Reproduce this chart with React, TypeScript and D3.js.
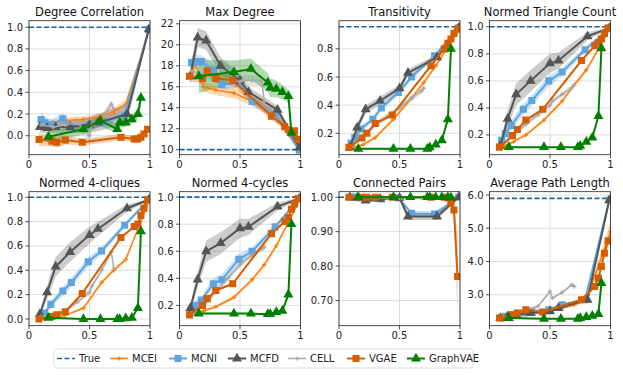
import React from 'react';
import * as d3 from 'd3';

const W = 623;
const H = 375;

// x positions of each method (shared by every panel)
const xMCEI = [0.1, 0.13, 0.2, 0.3, 0.45, 0.6, 0.7, 0.8, 1.0];
const xMCNI = [0.1, 0.13, 0.18, 0.28, 0.35, 0.49, 0.6, 0.79, 0.99];
const xMCFD = [0.09, 0.15, 0.22, 0.34, 0.5, 0.57, 0.81, 0.99];
const xCELL = [0.1, 0.2, 0.3, 0.4, 0.5, 0.52, 0.6, 0.68, 0.7];
const xVGAE = [0.083, 0.19, 0.23, 0.3, 0.44, 0.76, 0.87, 0.9, 0.925, 0.95, 0.98];
const xGraphVAE = [0.16, 0.45, 0.59, 0.73, 0.75, 0.8, 0.85, 0.9, 0.925];

// each entry: [mean, half width of the shaded band]
const degreeCorrelation = {
  MCEI: [[0.12, 0.03], [0.13, 0.03], [0.12, 0.03], [0.14, 0.03], [0.15, 0.03], [0.18, 0.03], [0.22, 0.04], [0.29, 0.04], [1.0, 0.01]],
  MCNI: [[0.15, 0.07], [0.12, 0.06], [0.1, 0.05], [0.155, 0.05], [0.08, 0.04], [0.1, 0.04], [0.12, 0.04], [0.19, 0.05], [0.98, 0.01]],
  MCFD: [[0.08, 0.05], [0.07, 0.05], [0.08, 0.05], [0.08, 0.06], [0.1, 0.07], [0.12, 0.08], [0.2, 0.09], [0.98, 0.01]],
  CELL: [[0.1, 0.04], [0.08, 0.04], [0.1, 0.04], [0.12, 0.05], [0.0, 0.05], [0.1, 0.05], [0.15, 0.05], [0.29, 0.04], [0.25, 0.04]],
  VGAE: [[-0.035, 0.06], [-0.05, 0.05], [-0.06, 0.05], [-0.04, 0.04], [-0.06, 0.03], [-0.015, 0.03], [-0.03, 0.03], [-0.03, 0.03], [-0.015, 0.03], [0.015, 0.03], [0.06, 0.03]],
  GraphVAE: [[-0.01, 0.05], [0.06, 0.05], [0.14, 0.05], [0.06, 0.04], [0.12, 0.04], [0.12, 0.04], [0.15, 0.04], [0.2, 0.05], [0.35, 0.07]],
};

const maxDegree = {
  MCEI: [[17.3, 0.5], [18.2, 0.5], [16.0, 0.5], [15.7, 0.5], [15.4, 0.5], [14.6, 0.4], [14.0, 0.4], [13.3, 0.4], [10.3, 0.3]],
  MCNI: [[18.3, 0.7], [18.4, 0.7], [18.4, 0.6], [17.6, 0.6], [16.2, 0.5], [16.4, 0.5], [14.6, 0.4], [13.4, 0.4], [9.95, 0.2]],
  MCFD: [[17.0, 0.9], [20.7, 0.9], [20.4, 0.9], [18.0, 0.8], [16.6, 0.6], [15.5, 0.5], [13.8, 0.4], [10.2, 0.2]],
  CELL: [[17.5, 0.5], [17.2, 0.5], [16.8, 0.5], [16.6, 0.5], [16.5, 0.5], [16.6, 0.5], [16.6, 0.5], [16.6, 0.5], [14.6, 0.4]],
  VGAE: [[17.0, 0.5], [16.8, 0.5], [17.5, 0.5], [16.8, 0.5], [16.6, 0.5], [13.2, 0.4], [12.2, 0.3], [11.9, 0.3], [11.6, 0.3], [11.8, 0.3], [11.0, 0.3]],
  GraphVAE: [[17.0, 1.6], [17.4, 1.1], [17.7, 1.0], [16.4, 0.9], [15.9, 0.9], [15.8, 0.8], [15.5, 0.7], [15.1, 0.6], [11.6, 0.6]],
};

const transitivity = {
  MCEI: [[0.09, 0.01], [0.1, 0.01], [0.12, 0.01], [0.17, 0.01], [0.3, 0.015], [0.45, 0.015], [0.56, 0.015], [0.68, 0.015], [0.95, 0.005]],
  MCNI: [[0.13, 0.02], [0.17, 0.02], [0.23, 0.02], [0.3, 0.02], [0.38, 0.02], [0.49, 0.02], [0.6, 0.02], [0.75, 0.015], [0.95, 0.005]],
  MCFD: [[0.1, 0.02], [0.24, 0.03], [0.37, 0.03], [0.43, 0.03], [0.52, 0.025], [0.63, 0.025], [0.74, 0.02], [0.95, 0.005]],
  CELL: [[0.1, 0.02], [0.18, 0.02], [0.26, 0.02], [0.32, 0.02], [0.38, 0.02], [0.4, 0.02], [0.45, 0.02], [0.5, 0.02], [0.52, 0.02]],
  VGAE: [[0.1, 0.01], [0.167, 0.01], [0.2, 0.01], [0.27, 0.01], [0.33, 0.01], [0.68, 0.01], [0.8, 0.01], [0.84, 0.01], [0.87, 0.01], [0.91, 0.01], [0.94, 0.005]],
  GraphVAE: [[0.09, 0.005], [0.09, 0.005], [0.09, 0.005], [0.09, 0.005], [0.1, 0.005], [0.12, 0.01], [0.15, 0.01], [0.3, 0.015], [0.8, 0.02]],
};

const triangleCount = {
  MCEI: [[0.11, 0.01], [0.12, 0.01], [0.15, 0.01], [0.2, 0.01], [0.31, 0.015], [0.45, 0.015], [0.57, 0.015], [0.68, 0.015], [0.99, 0.005]],
  MCNI: [[0.16, 0.02], [0.21, 0.03], [0.27, 0.04], [0.39, 0.04], [0.455, 0.04], [0.6, 0.04], [0.665, 0.03], [0.83, 0.02], [0.99, 0.005]],
  MCFD: [[0.12, 0.03], [0.32, 0.06], [0.5, 0.08], [0.6, 0.08], [0.73, 0.07], [0.75, 0.06], [0.93, 0.03], [0.99, 0.005]],
  CELL: [[0.12, 0.02], [0.2, 0.02], [0.28, 0.02], [0.35, 0.02], [0.42, 0.02], [0.45, 0.02], [0.5, 0.02], [0.55, 0.02], [0.57, 0.02]],
  VGAE: [[0.11, 0.01], [0.195, 0.01], [0.24, 0.01], [0.31, 0.01], [0.39, 0.01], [0.75, 0.01], [0.86, 0.01], [0.88, 0.01], [0.91, 0.01], [0.95, 0.01], [0.99, 0.005]],
  GraphVAE: [[0.11, 0.005], [0.11, 0.005], [0.11, 0.005], [0.11, 0.005], [0.12, 0.005], [0.15, 0.01], [0.18, 0.01], [0.34, 0.015], [0.84, 0.02]],
};

const cliques4 = {
  MCEI: [[0.0, 0.005], [0.0, 0.005], [0.01, 0.005], [0.03, 0.01], [0.09, 0.01], [0.3, 0.015], [0.4, 0.015], [0.49, 0.015], [0.99, 0.005]],
  MCNI: [[0.02, 0.01], [0.05, 0.02], [0.12, 0.03], [0.23, 0.04], [0.3, 0.04], [0.47, 0.04], [0.56, 0.03], [0.77, 0.02], [0.98, 0.005]],
  MCFD: [[0.04, 0.02], [0.22, 0.06], [0.43, 0.08], [0.55, 0.08], [0.69, 0.07], [0.74, 0.06], [0.91, 0.03], [0.98, 0.005]],
  CELL: [[0.02, 0.01], [0.04, 0.01], [0.07, 0.01], [0.14, 0.02], [0.22, 0.02], [0.27, 0.02], [0.4, 0.02], [0.55, 0.02], [0.42, 0.02]],
  VGAE: [[0.0, 0.005], [0.02, 0.005], [0.035, 0.005], [0.06, 0.01], [0.21, 0.01], [0.67, 0.01], [0.76, 0.01], [0.78, 0.01], [0.85, 0.01], [0.91, 0.01], [0.98, 0.005]],
  GraphVAE: [[0.01, 0.005], [0.0, 0.003], [0.0, 0.003], [0.0, 0.003], [0.0, 0.003], [0.005, 0.003], [0.01, 0.005], [0.09, 0.01], [0.72, 0.02]],
};

const cycles4 = {
  MCEI: [[0.13, 0.01], [0.14, 0.01], [0.16, 0.01], [0.19, 0.01], [0.26, 0.015], [0.39, 0.015], [0.5, 0.015], [0.64, 0.015], [0.99, 0.005]],
  MCNI: [[0.15, 0.02], [0.2, 0.03], [0.24, 0.03], [0.36, 0.04], [0.39, 0.04], [0.54, 0.04], [0.6, 0.03], [0.78, 0.02], [0.99, 0.005]],
  MCFD: [[0.18, 0.03], [0.39, 0.06], [0.6, 0.08], [0.66, 0.08], [0.77, 0.07], [0.78, 0.06], [0.93, 0.03], [0.99, 0.005]],
  CELL: [[0.14, 0.02], [0.2, 0.02], [0.3, 0.02], [0.4, 0.02], [0.5, 0.02], [0.52, 0.02], [0.57, 0.02], [0.62, 0.02], [0.63, 0.02]],
  VGAE: [[0.13, 0.01], [0.2, 0.01], [0.25, 0.01], [0.31, 0.01], [0.36, 0.01], [0.73, 0.01], [0.82, 0.01], [0.85, 0.01], [0.91, 0.01], [0.95, 0.01], [0.99, 0.005]],
  GraphVAE: [[0.14, 0.005], [0.14, 0.005], [0.14, 0.005], [0.135, 0.005], [0.135, 0.005], [0.15, 0.005], [0.16, 0.01], [0.28, 0.015], [0.8, 0.02]],
};

const connectedPairs = {
  MCEI: [[1.0, 0.002], [1.0, 0.002], [1.0, 0.002], [1.0, 0.002], [1.0, 0.002], [1.0, 0.002], [1.0, 0.002], [1.0, 0.002], [1.0, 0.002]],
  MCNI: [[1.0, 0.002], [1.0, 0.002], [0.998, 0.003], [0.996, 0.003], [0.995, 0.003], [0.998, 0.003], [0.953, 0.008], [0.951, 0.008], [1.0, 0.002]],
  MCFD: [[1.0, 0.002], [0.998, 0.003], [0.99, 0.004], [0.995, 0.004], [0.998, 0.004], [0.944, 0.01], [0.944, 0.01], [1.0, 0.002]],
  CELL: [[1.0, 0.002], [0.998, 0.003], [0.998, 0.003], [0.997, 0.003], [0.998, 0.003], [0.998, 0.003], [0.999, 0.002], [0.999, 0.002], [0.999, 0.002]],
  VGAE: [[1.0, 0.002], [1.0, 0.002], [1.0, 0.002], [1.0, 0.002], [1.0, 0.002], [1.0, 0.002], [1.0, 0.002], [0.998, 0.003], [0.983, 0.008], [0.963, 0.02], [0.77, 0.12]],
  GraphVAE: [[1.0, 0.002], [1.0, 0.002], [1.0, 0.002], [1.0, 0.002], [1.0, 0.002], [1.0, 0.002], [1.0, 0.002], [1.0, 0.002], [0.999, 0.002]],
};

const avgPathLength = {
  MCEI: [[2.3, 0.03], [2.33, 0.03], [2.38, 0.03], [2.45, 0.03], [2.5, 0.04], [2.6, 0.04], [2.7, 0.05], [2.85, 0.05], [4.9, 0.3]],
  MCNI: [[2.3, 0.05], [2.35, 0.05], [2.4, 0.05], [2.45, 0.05], [2.5, 0.05], [2.55, 0.05], [2.7, 0.05], [2.85, 0.05], [5.85, 0.05]],
  MCFD: [[2.3, 0.05], [2.35, 0.05], [2.4, 0.05], [2.45, 0.05], [2.5, 0.05], [2.6, 0.05], [2.85, 0.05], [5.85, 0.05]],
  CELL: [[2.3, 0.03], [2.4, 0.03], [2.55, 0.03], [2.65, 0.04], [3.1, 0.04], [2.9, 0.04], [3.07, 0.04], [3.3, 0.04], [3.25, 0.04]],
  VGAE: [[2.3, 0.03], [2.4, 0.03], [2.45, 0.03], [2.55, 0.03], [2.48, 0.03], [2.85, 0.03], [3.25, 0.04], [3.5, 0.05], [3.85, 0.05], [4.25, 0.05], [4.62, 0.06]],
  GraphVAE: [[2.3, 0.02], [2.28, 0.02], [2.28, 0.02], [2.28, 0.02], [2.3, 0.02], [2.33, 0.02], [2.37, 0.02], [2.42, 0.03], [3.35, 0.05]],
};

const methods = ['MCEI', 'MCNI', 'MCFD', 'CELL', 'VGAE', 'GraphVAE'];
const xByMethod: Record<string, number[]> = {
  MCEI: xMCEI, MCNI: xMCNI, MCFD: xMCFD, CELL: xCELL, VGAE: xVGAE, GraphVAE: xGraphVAE,
};

const style: Record<string, { color: string; marker: any; size: number; lw: number }> = {
  MCEI: { color: '#ff7f0e', marker: d3.symbolCross, size: 10, lw: 1.5 },
  MCNI: { color: '#5da5e0', marker: d3.symbolSquare, size: 50, lw: 2 },
  MCFD: { color: '#555555', marker: d3.symbolTriangle, size: 44, lw: 2 },
  CELL: { color: '#aaaaaa', marker: d3.symbolCross, size: 10, lw: 1.5 },
  VGAE: { color: '#d55e00', marker: d3.symbolSquare, size: 50, lw: 2 },
  GraphVAE: { color: '#008000', marker: d3.symbolTriangle, size: 44, lw: 2 },
};
const trueColor = '#1565a8';

const panels = [
  { title: 'Degree Correlation', data: degreeCorrelation, domain: [-0.175, 1.06], ticks: [0, 0.2, 0.4, 0.6, 0.8, 1.0], fmt: '.1f', truth: 1.0 },
  { title: 'Max Degree', data: maxDegree, domain: [9.52, 22.3], ticks: [10, 12, 14, 16, 18, 20, 22], fmt: 'd', truth: 10 },
  { title: 'Transitivity', data: transitivity, domain: [0.048, 1.0], ticks: [0.2, 0.4, 0.6, 0.8], fmt: '.1f', truth: 0.957 },
  { title: 'Normed Triangle Count', data: triangleCount, domain: [0.054, 1.045], ticks: [0.2, 0.4, 0.6, 0.8, 1.0], fmt: '.1f', truth: 1.0 },
  { title: 'Normed 4-cliques', data: cliques4, domain: [-0.055, 1.046], ticks: [0, 0.2, 0.4, 0.6, 0.8, 1.0], fmt: '.1f', truth: 1.0 },
  { title: 'Normed 4-cycles', data: cycles4, domain: [0.05, 1.04], ticks: [0.2, 0.4, 0.6, 0.8, 1.0], fmt: '.1f', truth: 1.0 },
  { title: 'Connected Pairs', data: connectedPairs, domain: [0.627, 1.016], ticks: [0.7, 0.8, 0.9, 1.0], fmt: '.2f', truth: 1.0 },
  { title: 'Average Path Length', data: avgPathLength, domain: [2.07, 6.1], ticks: [3, 4, 5, 6], fmt: '.1f', truth: 5.9 },
];

const colLeft = [29, 179.5, 339, 489.5];
const rowTop = [20.7, 191.7];
const PW = 121;
const PH = 134;
const FONT = 'DejaVu Sans, sans-serif';

function Panel({ p, idx }: { p: any; idx: number }) {
  const left = colLeft[idx % 4];
  const top = rowTop[Math.floor(idx / 4)];
  const x = d3.scaleLinear().domain([0, 1]).range([0, PW]);
  const y = d3.scaleLinear().domain(p.domain).range([PH, 0]);
  const fmt = d3.format(p.fmt);
  const clipId = `clip${idx}`;
  const line = d3.line<[number, number]>().x((d) => x(d[0])).y((d) => y(d[1]));
  const area = d3
    .area<[number, number, number]>()
    .x((d) => x(d[0]))
    .y0((d) => y(d[1] - d[2]))
    .y1((d) => y(d[1] + d[2]));
  const xt = [0, 0.5, 1];
  const xLab = ['0', '0.5', '1'];

  return (
    <g transform={`translate(${left},${top})`}>
      <clipPath id={clipId}>
        <rect x={0} y={0} width={PW} height={PH} />
      </clipPath>
      {xt.map((t) => (
        <line key={'gx' + t} x1={x(t)} x2={x(t)} y1={0} y2={PH} stroke="#d9d9d9" strokeWidth={0.9} />
      ))}
      {p.ticks.map((t: number) => (
        <line key={'gy' + t} x1={0} x2={PW} y1={y(t)} y2={y(t)} stroke="#d9d9d9" strokeWidth={0.9} />
      ))}
      <g clipPath={`url(#${clipId})`}>
        <line x1={0} x2={PW} y1={y(p.truth)} y2={y(p.truth)} stroke={trueColor} strokeWidth={1.6} strokeDasharray="5,2.5" />
        {methods.map((m) => {
          const xs = xByMethod[m];
          const pts = (p.data[m] as number[][]).map((d, i) => [xs[i], d[0], d[1]] as [number, number, number]);
          return <path key={'a' + m} d={area(pts) || ''} fill={style[m].color} fillOpacity={0.3} stroke="none" />;
        })}
        {methods.map((m) => {
          const xs = xByMethod[m];
          const pts = (p.data[m] as number[][]).map((d, i) => [xs[i], d[0]] as [number, number]);
          const st = style[m];
          const sym = d3.symbol().type(st.marker).size(st.size)();
          return (
            <g key={'l' + m}>
              <path d={line(pts) || ''} fill="none" stroke={st.color} strokeWidth={st.lw} strokeLinejoin="round" />
              {pts.map((d, i) => (
                <path key={i} d={sym || ''} transform={`translate(${x(d[0])},${y(d[1])})`} fill={st.color} />
              ))}
            </g>
          );
        })}
      </g>
      <rect x={0} y={0} width={PW} height={PH} fill="none" stroke="#222" strokeWidth={0.8} />
      {xt.map((t, i) => (
        <g key={'tx' + t} transform={`translate(${x(t)},${PH})`}>
          <line y2={3.5} stroke="#222" strokeWidth={0.8} />
          <text y={13.5} textAnchor="middle" fontSize={10} fontFamily={FONT} fill="#222">
            {xLab[i]}
          </text>
        </g>
      ))}
      {p.ticks.map((t: number) => (
        <g key={'ty' + t} transform={`translate(0,${y(t)})`}>
          <line x2={-3.5} stroke="#222" strokeWidth={0.8} />
          <text x={-6} dy="0.35em" textAnchor="end" fontSize={10} fontFamily={FONT} fill="#222">
            {fmt(t)}
          </text>
        </g>
      ))}
      <text x={PW / 2} y={-5} textAnchor="middle" fontSize={11.5} fontFamily={FONT} fill="#111">
        {p.title}
      </text>
    </g>
  );
}

const legendStarts = [57, 110, 169, 228, 288, 347, 407];

function Legend() {
  const items = [{ name: 'True', color: trueColor, dashed: true }, ...methods.map((m) => ({ name: m, color: style[m].color, dashed: false }))];
  return (
    <g>
      <rect x={54} y={349} width={419} height={19} rx={2.5} fill="#fff" stroke="#d0d0d0" strokeWidth={0.8} />
      {items.map((it, i) => {
        const x0 = legendStarts[i];
        const cy = 358.5;
        const st = style[it.name];
        const sym = st ? d3.symbol().type(st.marker).size(st.size)() : null;
        return (
          <g key={it.name}>
            <line x1={x0} x2={x0 + 18} y1={cy} y2={cy} stroke={it.color} strokeWidth={it.dashed ? 1.6 : st.lw} strokeDasharray={it.dashed ? '5,2.5' : undefined} />
            {sym && <path d={sym} transform={`translate(${x0 + 9},${cy})`} fill={it.color} />}
            <text x={x0 + 22} y={cy} dy="0.35em" fontSize={10} fontFamily={FONT} fill="#222">
              {it.name}
            </text>
          </g>
        );
      })}
    </g>
  );
}

export default function App() {
  return (
    <svg width={W} height={H} style={{ position: 'absolute', left: 0, top: 0, background: '#fff' }}>
      {panels.map((p, i) => (
        <Panel key={p.title} p={p} idx={i} />
      ))}
      <Legend />
    </svg>
  );
}
